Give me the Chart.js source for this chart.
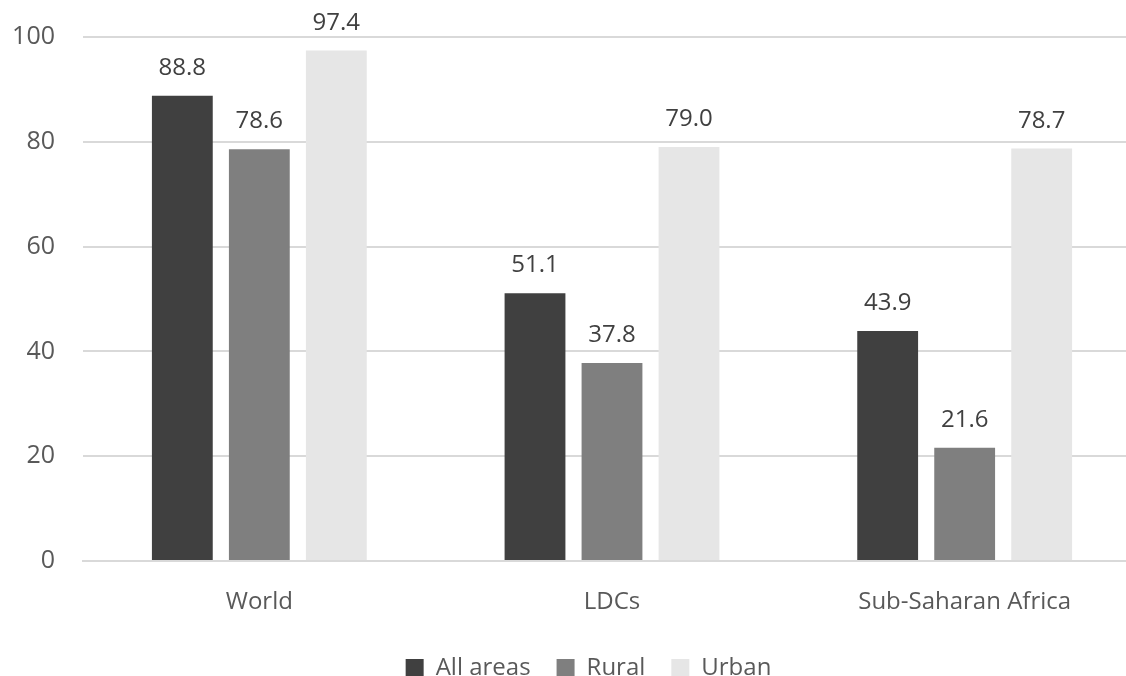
<!DOCTYPE html>
<html>
<head>
<meta charset="utf-8">
<script src="https://cdn.jsdelivr.net/npm/chart.js@4"></script>
<style>
   html, body { margin: 0; padding: 0; overflow: hidden; background: #fff; }
   #wrap { width: 1126px; height: 676px; overflow: hidden; }
</style>
</head>
<body>
<div id="wrap"><canvas id="barChart" width="1176" height="690"></canvas></div>
<script>
/* -----------------------------------------------------------------------
   data
   ------------------------------------------------------------------------*/
const categories = ["World", "LDCs", "Sub-Saharan Africa"];
const allAreas = [88.8, 51.1, 43.9];
const rural = [78.6, 37.8, 21.6];
const urban = [97.4, 79.0, 78.7];
const yTicks = [0, 20, 40, 60, 80, 100];

const FONT = "'Open Sans', 'Noto Sans', sans-serif";

// 막대 위 값 표시
const valueLabels = {
   id: 'valueLabels',
   afterDatasetsDraw: function(chart) {
      const ctx = chart.ctx;
      ctx.save();
      ctx.font = '24px ' + FONT;
      ctx.fillStyle = '#404040';
      ctx.textAlign = 'center';
      ctx.textBaseline = 'alphabetic';
      chart.data.datasets.forEach((dataset, i) => {
         chart.getDatasetMeta(i).data.forEach((bar, idx) => {
            ctx.fillText(dataset.data[idx].toFixed(1), bar.x, bar.y - 21);
         });
      });
      ctx.restore();
   }
};

// 범례를 전체 영역 가운데로 이동
const legendShift = {
   id: 'legendShift',
   afterLayout: function(chart) {
      chart.legend.left += 18;
      chart.legend.right += 18;
   }
};

const config = {
   type: 'bar',
   data: {
      labels: categories,
      datasets: [
         { label: 'All areas', data: allAreas, backgroundColor: '#404040' },
         { label: 'Rural', data: rural, backgroundColor: '#7f7f7f' },
         { label: 'Urban', data: urban, backgroundColor: '#e6e6e6' },
      ]
   },
   options: {
      responsive: false,
      animation: false,
      categoryPercentage: 0.655,
      barPercentage: 0.79,
      layout: {
         padding: { top: 37, right: 35, left: 0, bottom: 0 }
      },
      scales: {
         x: {
            grid: { display: false },
            border: { color: '#d9d9d9', width: 2 },
            ticks: {
               color: '#595959',
               padding: 19,
               font: { family: FONT, size: 24 }
            },
            afterFit: function(scale) { scale.height = 69; }
         },
         y: {
            min: 0,
            max: 100,
            afterBuildTicks: function(scale) {
               scale.ticks = yTicks.map(v => ({ value: v }));
            },
            grid: { color: '#d9d9d9', lineWidth: 2, drawTicks: false },
            border: { display: false },
            ticks: {
               color: '#595959',
               padding: 28,
               font: { family: FONT, size: 25 }
            },
            afterFit: function(scale) {
               scale.width = 83;
               scale.paddingTop = 0;
               scale.paddingBottom = 0;
            }
         }
      },
      plugins: {
         legend: {
            position: 'bottom',
            labels: {
               color: '#595959',
               boxWidth: 18,
               boxHeight: 18,
               padding: 26,
               font: { family: FONT, size: 24 }
            }
         },
         tooltip: { enabled: false }
      }
   },
   plugins: [valueLabels, legendShift]
};

new Chart(document.getElementById('barChart'), config);
</script>
</body>
</html>
